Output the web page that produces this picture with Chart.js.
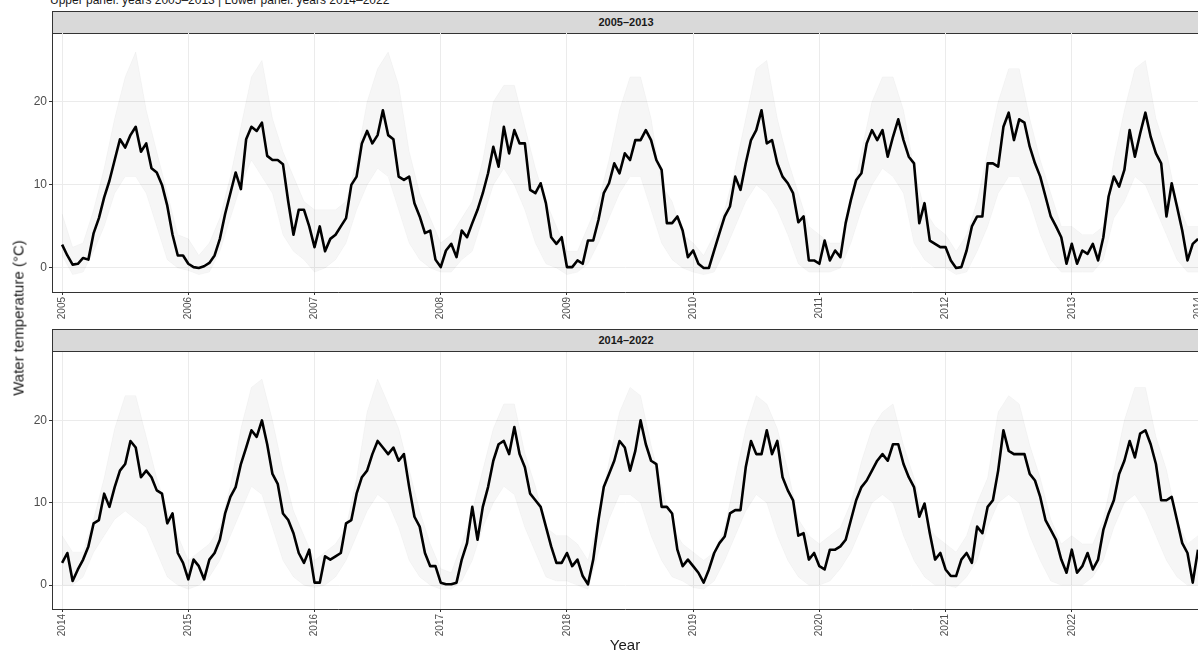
<!DOCTYPE html>
<html>
<head>
<meta charset="utf-8">
<script src="https://cdn.jsdelivr.net/npm/chart.js@4.4.1/dist/chart.umd.min.js"></script>
<style>
  body { margin: 0; width: 1198px; height: 655px; overflow: hidden; background: #fff; position: relative;
         font-family: 'Liberation Sans', Arial, sans-serif; }
  .strip { position: absolute; left: 52px; width: 1150px; height: 21px; background: #d9d9d9;
           border: 1px solid #333; font-weight: bold; font-size: 11px; color: #1a1a1a;
           text-align: center; line-height: 21px; }
  .strip span { position: absolute; left: 0; width: 1146px; text-align: center; }
  .panel { position: absolute; left: 0; width: 1198px; height: 290px; }
  .title { position: absolute; left: 50px; top: -7px; font-size: 12px; color: #1a1a1a; white-space: nowrap; }
  .ytitle { position: absolute; left: 18px; top: 318px; transform: translate(-50%, -50%) rotate(-90deg);
            font-size: 15px; color: #1a1a1a; white-space: nowrap; }
  .xtitle { position: absolute; left: 625px; top: 636px; transform: translateX(-50%); font-size: 15px; color: #1a1a1a; }
</style>
</head>
<body>
<div class="title">Upper panel: years 2005–2013 | Lower panel: years 2014–2022</div>
<div class="strip" style="top:11px"><span>2005–2013</span></div>
<div class="panel" style="top:33px"><canvas id="topChart"></canvas></div>
<div class="strip" style="top:329px"><span>2014–2022</span></div>
<div class="panel" style="top:352px"><canvas id="bottomChart"></canvas></div>
<div class="ytitle">Water temperature (°C)</div>
<div class="xtitle">Year</div>
<script>
// Water temperature at ~half-month steps (24 per year)
const temp2005 = [2.8, 1.5, 0.4, 0.5, 1.2, 1.0, 4.2, 6.0, 8.5, 10.5, 13, 15.5, 14.5, 16, 17, 14, 15, 12, 11.5, 10, 7.5, 4, 1.5, 1.5];
const temp2006 = [0.5, 0.1, 0, 0.2, 0.6, 1.5, 3.5, 6.5, 9, 11.5, 9.5, 15.5, 17, 16.5, 17.5, 13.5, 13, 13, 12.5, 8, 4, 7, 7, 5];
const temp2007 = [2.5, 5, 2, 3.5, 4, 5, 6, 10, 11, 15, 16.5, 15, 16, 19, 16, 15.5, 11, 10.6, 11, 7.8, 6.2, 4.2, 4.5, 1];
const temp2008 = [0.1, 2.1, 2.9, 1.3, 4.5, 3.7, 5.4, 7, 9, 11.4, 14.6, 12.2, 17, 13.8, 16.6, 15, 15, 9.4, 9, 10.2, 7.8, 3.7, 2.9, 3.7];
const temp2009 = [0.1, 0.1, 0.9, 0.5, 3.3, 3.3, 5.8, 9, 10.2, 12.6, 11.4, 13.8, 13, 15.4, 15.4, 16.6, 15.4, 13, 11.8, 5.4, 5.4, 6.2, 4.5, 1.3];
const temp2010 = [2.1, 0.5, 0, 0, 2.1, 4.2, 6.2, 7.4, 11, 9.4, 12.6, 15.4, 16.6, 19, 15, 15.4, 12.6, 11, 10.2, 9, 5.5, 6.2, 0.9, 0.9];
const temp2011 = [0.5, 3.3, 0.9, 2.1, 1.3, 5.4, 8.2, 10.6, 11.4, 15, 16.6, 15.4, 16.6, 13.4, 15.8, 17.9, 15.4, 13.4, 12.6, 5.4, 7.8, 3.3, 2.9, 2.5];
const temp2012 = [2.5, 0.9, 0, 0.1, 2.1, 5, 6.2, 6.2, 12.6, 12.6, 12.2, 17, 18.7, 15.4, 17.9, 17.5, 14.6, 12.6, 11, 8.6, 6.2, 5, 3.7, 0.5];
const temp2013 = [2.9, 0.5, 2.1, 1.7, 2.9, 0.9, 3.7, 8.6, 11, 9.8, 11.8, 16.6, 13.4, 16.2, 18.7, 15.8, 13.8, 12.6, 6.2, 10.2, 7.4, 4.5, 0.9, 2.9, 3.5];

const temp2014 = [2.7, 3.9, 0.5, 1.9, 3.1, 4.7, 7.5, 7.9, 11.1, 9.5, 11.9, 13.9, 14.7, 17.5, 16.7, 13.1, 13.9, 13.1, 11.5, 11.1, 7.5, 8.7, 3.9, 2.7];
const temp2015 = [0.7, 3.1, 2.3, 0.7, 3.1, 3.9, 5.5, 8.7, 10.7, 11.9, 14.7, 16.7, 18.8, 18, 20, 17.1, 13.5, 12.3, 8.7, 7.9, 6.3, 3.9, 2.7, 4.3];
const temp2016 = [0.3, 0.3, 3.5, 3.1, 3.5, 3.9, 7.5, 7.9, 11.1, 13.1, 13.9, 15.9, 17.5, 16.7, 15.9, 16.7, 15.1, 15.9, 11.9, 8.3, 7.1, 3.9, 2.3, 2.3];
const temp2017 = [0.3, 0.1, 0.1, 0.3, 3.1, 5.1, 9.5, 5.5, 9.5, 11.9, 15.1, 17.1, 17.5, 15.9, 19.2, 15.9, 14.3, 11.1, 10.3, 9.5, 7.1, 4.7, 2.7, 2.7];
const temp2018 = [3.9, 2.3, 3.1, 1.1, 0.1, 3.1, 7.9, 11.9, 13.5, 15.1, 17.5, 16.7, 13.9, 16.3, 20, 17.1, 15.1, 14.7, 9.5, 9.5, 8.7, 4.3, 2.3, 3.1];
const temp2019 = [2.3, 1.5, 0.3, 1.9, 3.9, 5.1, 5.9, 8.7, 9.1, 9.1, 14.3, 17.5, 15.9, 15.9, 18.8, 15.9, 17.5, 13.1, 11.5, 10.3, 6, 6.3, 3.1, 3.9];
const temp2020 = [2.3, 1.9, 4.3, 4.3, 4.7, 5.5, 7.9, 10.3, 11.9, 12.7, 13.9, 15.1, 15.9, 15.1, 17.1, 17.1, 14.7, 13.1, 11.9, 8.3, 9.9, 6.3, 3.1, 3.9];
const temp2021 = [1.9, 1.1, 1.1, 3.1, 3.9, 2.7, 7.1, 6.3, 9.5, 10.3, 13.9, 18.8, 16.3, 15.9, 15.9, 15.9, 13.5, 12.7, 10.7, 7.9, 6.7, 5.5, 3.1, 1.5];
const temp2022 = [4.3, 1.5, 2.3, 3.9, 1.9, 3.1, 6.7, 8.7, 10.3, 13.5, 15.1, 17.5, 15.5, 18.4, 18.8, 17.1, 14.7, 10.3, 10.3, 10.7, 7.9, 5.1, 3.9, 0.3, 4.3];

// Spread of the grey ensemble lines, monthly (upper / lower edge)
const upperTop = [
  6.5, 2.5, 3, 7, 12, 18, 23, 26, 19, 14, 9, 4,
  3.5, 1.5, 3, 6, 11, 17, 23, 25, 18, 14, 11, 8,
  7, 7, 7, 8, 13, 20, 24, 26, 22, 14, 9, 6,
  3, 4, 6, 8, 13, 20, 22, 22, 17, 12, 8, 5,
  2, 2, 5, 8, 13, 19, 23, 23, 18, 10, 8, 4,
  3, 1.5, 4, 7, 12, 18, 24, 25, 18, 13, 9, 5,
  4, 3, 3, 8, 14, 20, 23, 23, 19, 12, 7, 5,
  4, 2, 4, 8, 14, 20, 24, 24, 18, 13, 9, 5,
  5, 4, 4, 5, 13, 19, 24, 25, 18, 14, 8, 5, 5];
const lowerTop = [
  1.5, -0.8, -0.5, 2, 5, 9, 11, 11, 9, 5, 1, 0,
  -0.3, -0.8, -0.5, 2, 6, 10, 13, 11, 9, 4, 2, 1,
  -0.5, 0, 1, 3, 7, 10, 12, 11, 7, 3, 1, 0,
  -0.5, -0.5, 1, 2, 6, 10, 12, 10, 7, 3, 0.5, 0,
  -0.8, -0.5, 0.5, 3, 6, 9, 11, 11, 7, 3, 1, 0,
  -0.5, -0.8, -0.5, 2, 5, 8, 10, 9, 7, 4, 0.5, -0.5,
  -0.5, -0.5, 0, 3, 7, 10, 12, 11, 9, 3, 1, 0,
  0, -0.8, -0.5, 2, 5, 9, 11, 11, 8, 4, 1, -0.5,
  -0.5, -0.5, -0.5, 1, 6, 8, 11, 10, 7, 4, 1, -0.5, -0.5];
const upperBottom = [
  6, 4, 4, 8, 13, 19, 23, 23, 18, 13, 9, 6,
  3, 4, 5, 7, 12, 19, 24, 25, 20, 14, 9, 6,
  3, 4, 5, 7, 13, 21, 25, 22, 19, 14, 9, 5,
  2, 1.5, 5, 9, 14, 19, 22, 22, 16, 12, 7, 6,
  6, 5, 3, 8, 15, 21, 24, 23, 17, 12, 7, 5,
  4, 3, 4, 7, 13, 19, 23, 22, 19, 14, 8, 6,
  5, 6, 7, 10, 15, 19, 21, 22, 17, 13, 8, 6,
  5, 4, 6, 10, 13, 21, 23, 22, 17, 13, 8, 5,
  6, 5, 5, 8, 14, 20, 24, 24, 18, 14, 8, 5, 6];
const lowerBottom = [
  0, 0, 1, 4, 6, 8, 9, 8, 7, 4, 1, 0,
  -0.5, 0, 1, 3, 6, 9, 12, 11, 7, 3, 1, 0,
  -0.3, 0, 1, 3, 6, 9, 11, 10, 7, 3, 1, 0,
  -0.5, -0.5, 0.5, 3, 7, 10, 12, 11, 7, 4, 1, 0.5,
  0.5, 0, -0.5, 4, 8, 11, 11, 10, 6, 3, 1, 0.5,
  -0.3, -0.5, 0.5, 3, 6, 9, 11, 10, 6, 3, 1, 0,
  0, 0.5, 2, 4, 7, 10, 11, 10, 6, 3, 1, 0,
  0, -0.3, 1, 3, 7, 10, 11, 10, 6, 3, 0.5, 0,
  0, 0, 1, 3, 7, 10, 11, 9, 6, 3, 1, 0, 0];

const yearsTop = [2005, 2006, 2007, 2008, 2009, 2010, 2011, 2012, 2013];
const yearsBottom = [2014, 2015, 2016, 2017, 2018, 2019, 2020, 2021, 2022];
const seriesTop = [temp2005, temp2006, temp2007, temp2008, temp2009, temp2010, temp2011, temp2012, temp2013];
const seriesBottom = [temp2014, temp2015, temp2016, temp2017, temp2018, temp2019, temp2020, temp2021, temp2022];
const xTicksTop = [2005, 2006, 2007, 2008, 2009, 2010, 2011, 2012, 2013, 2014];
const xTicksBottom = [2014, 2015, 2016, 2017, 2018, 2019, 2020, 2021, 2022];
const yTicks = [0, 10, 20];

// turn year arrays into {x: decimal year, y} points
function toPoints(years, series) {
  const pts = [];
  years.forEach((yr, i) => {
    series[i].forEach((v, k) => pts.push({ x: yr + k / 24, y: v }));
  });
  return pts;
}

function monthly(startYear, values) {
  return values.map((v, i) => ({ x: startYear + i / 12, y: v }));
}

function makePanel(canvasId, years, series, upper, lower, xTicks, xMin, xMax, xAxisHeight) {
  const ctx = document.getElementById(canvasId);
  return new Chart(ctx, {
    type: 'line',
    data: {
      datasets: [{
        data: toPoints(years, series),
        borderColor: '#000',
        borderWidth: 2.6,
        pointRadius: 0,
        borderJoinStyle: 'round',
        fill: false
      }, {
        data: monthly(years[0], upper),
        borderColor: 'rgba(0,0,0,0.03)',
        borderWidth: 1,
        backgroundColor: 'rgba(0,0,0,0.035)',
        pointRadius: 0,
        fill: '+1'
      }, {
        data: monthly(years[0], lower),
        borderColor: 'rgba(0,0,0,0.03)',
        borderWidth: 1,
        pointRadius: 0,
        fill: false
      }]
    },
    options: {
      responsive: true,
      maintainAspectRatio: false,
      animation: false,
      layout: { padding: 0 },
      plugins: { legend: { display: false }, tooltip: { enabled: false } },
      scales: {
        x: {
          type: 'linear',
          min: xMin,
          max: xMax,
          afterBuildTicks: (scale) => { scale.ticks = xTicks.map(v => ({ value: v })); },
          afterFit: (scale) => { scale.height = xAxisHeight; scale.paddingLeft = 0; scale.paddingRight = 0; },
          ticks: {
            autoSkip: false,
            minRotation: 90,
            maxRotation: 90,
            padding: 2,
            color: '#4d4d4d',
            font: { family: "'Liberation Sans', Arial, sans-serif", size: 10 },
            callback: (v) => String(v)
          },
          grid: { color: '#ebebeb', lineWidth: 1, tickColor: '#333', tickLength: 3 },
          border: { display: true, color: '#333', width: 1 }
        },
        y: {
          min: -2.9,
          max: 28.3,
          afterBuildTicks: (scale) => { scale.ticks = yTicks.map(v => ({ value: v })); },
          afterFit: (scale) => { scale.width = 52; scale.paddingTop = 0; scale.paddingBottom = 0; },
          ticks: {
            padding: 2,
            color: '#4d4d4d',
            font: { family: "'Liberation Sans', Arial, sans-serif", size: 12 }
          },
          grid: { color: '#ebebeb', lineWidth: 1, tickColor: '#333', tickLength: 3 },
          border: { display: true, color: '#333', width: 1 }
        }
      }
    }
  });
}

document.addEventListener('DOMContentLoaded', () => {
  makePanel('topChart', yearsTop, seriesTop, upperTop, lowerTop, xTicksTop, 2004.92, 2014.0, 31);
  makePanel('bottomChart', yearsBottom, seriesBottom, upperBottom, lowerBottom, xTicksBottom, 2013.92, 2023.0, 33);
});
</script>
</body>
</html>
